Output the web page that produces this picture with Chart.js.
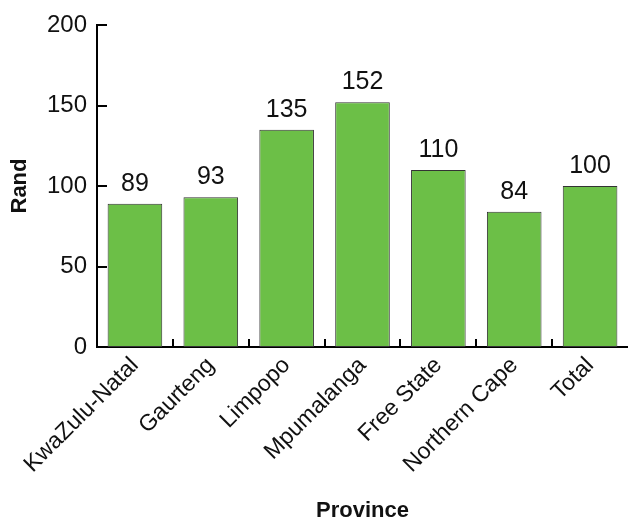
<!DOCTYPE html>
<html>
<head>
<meta charset="utf-8">
<script src="https://cdn.jsdelivr.net/npm/chart.js@4.4.1/dist/chart.umd.min.js"></script>
<style>
  html, body { margin: 0; padding: 0; background: #fff; }
  #wrap { width: 628px; height: 521px; }
</style>
</head>
<body>
<div id="wrap"><canvas id="chart"></canvas></div>
<script>
// Data
const provinces = ['KwaZulu-Natal', 'Gaurteng', 'Limpopo', 'Mpumalanga', 'Free State', 'Northern Cape', 'Total'];
const randValues = [89, 93, 135, 152, 110, 84, 100];
const yTicks = [0, 50, 100, 150, 200];

const FONT = "'Liberation Sans', Arial, sans-serif";

// Value labels above each bar
const valueLabels = {
  id: 'valueLabels',
  afterDatasetsDraw(chart) {
    const { ctx } = chart;
    const meta = chart.getDatasetMeta(0);
    ctx.save();
    ctx.font = `25px ${FONT}`;
    ctx.fillStyle = '#111';
    ctx.textAlign = 'center';
    ctx.textBaseline = 'alphabetic';
    meta.data.forEach((bar, i) => {
      ctx.fillText(String(randValues[i]), bar.x, bar.y - 13);
    });
    ctx.restore();
  }
};

// Inward tick marks on both axes
const innerTicks = {
  id: 'innerTicks',
  afterDraw(chart) {
    const { ctx, chartArea, scales } = chart;
    ctx.save();
    ctx.strokeStyle = '#000';
    ctx.lineWidth = 2;
    ctx.beginPath();
    yTicks.forEach(v => {
      const y = Math.round(scales.y.getPixelForValue(v));
      ctx.moveTo(chartArea.left, y);
      ctx.lineTo(chartArea.left + 10, y);
    });
    const step = (chartArea.right - chartArea.left) / provinces.length;
    for (let i = 1; i < provinces.length; i++) {
      const x = Math.round(chartArea.left + step * i);
      ctx.moveTo(x, chartArea.bottom);
      ctx.lineTo(x, chartArea.bottom - 8);
    }
    ctx.stroke();
    ctx.restore();
  }
};

new Chart(document.getElementById('chart'), {
  type: 'bar',
  data: {
    labels: provinces,
    datasets: [{
      label: 'Rand',
      data: randValues,
      backgroundColor: '#6cbf47',
      borderColor: '#333',
      borderWidth: 1,
      borderSkipped: false,
      categoryPercentage: 1,
      barPercentage: 0.72
    }]
  },
  options: {
    responsive: true,
    maintainAspectRatio: false,
    animation: false,
    layout: { padding: { top: 25, right: 0, left: 7, bottom: 0 } },
    plugins: {
      legend: { display: false },
      tooltip: { enabled: false }
    },
    scales: {
      x: {
        grid: { display: false, drawTicks: false },
        border: { display: true, color: '#000', width: 2 },
        ticks: {
          color: '#111',
          font: { family: FONT, size: 23 },
          maxRotation: 45,
          minRotation: 45,
          padding: 5
        },
        title: {
          display: true,
          text: 'Province',
          color: '#111',
          font: { family: FONT, size: 22, weight: 'bold' },
          padding: { top: 0, bottom: -3 }
        },
        afterFit(scale) { scale.height = 174; }
      },
      y: {
        min: 0,
        max: 200,
        afterBuildTicks(scale) { scale.ticks = yTicks.map(v => ({ value: v })); },
        grid: { display: false, drawTicks: false },
        border: { display: true, color: '#000', width: 2 },
        ticks: {
          color: '#111',
          font: { family: FONT, size: 24 },
          padding: 10
        },
        title: {
          display: true,
          text: 'Rand',
          color: '#111',
          font: { family: FONT, size: 22, weight: 'bold' },
          padding: { top: 0, bottom: 4 }
        },
        afterFit(scale) { scale.width = 90; }
      }
    }
  },
  plugins: [valueLabels, innerTicks]
});
</script>
</body>
</html>
